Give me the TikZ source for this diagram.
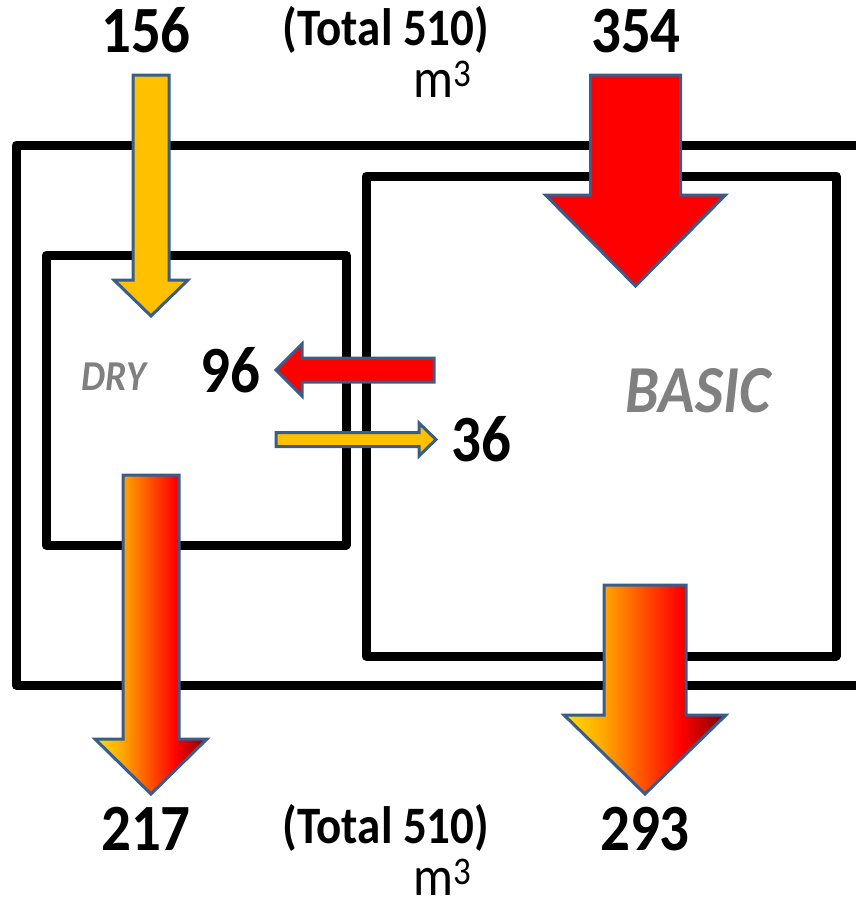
\documentclass[tikz,border=0pt]{standalone}
\usepackage{fontspec}
\setmainfont{Carlito}
\usepackage{graphicx}
\definecolor{aline}{RGB}{56,93,138}
\definecolor{ayel}{RGB}{255,192,0}
\definecolor{ared}{RGB}{255,0,0}
\definecolor{fy}{RGB}{255,224,0}
\definecolor{fo}{RGB}{255,168,0}
\definecolor{fr}{RGB}{255,0,0}
\definecolor{fdr}{RGB}{128,0,0}
\definecolor{lab}{RGB}{128,128,128}
\pgfdeclarehorizontalshading{fire}{100bp}{color(0bp)=(fy); color(25bp)=(fy); color(37bp)=(fo); color(61bp)=(fr); color(75bp)=(fdr); color(100bp)=(fdr)}
\newcommand\vs[1]{\scalebox{1}[1.12]{#1}}
\newcommand\dnarrow[7]{\path[#1] (#2-#3,#4) -- (#2+#3,#4) -- (#2+#3,#5) -- (#2+#6,#5) -- (#2,#7) -- (#2-#6,#5) -- (#2-#3,#5) -- cycle;}
\tikzset{
  box/.style={draw=black, line width=9pt, line join=round},
  blk/.style={draw=aline, line width=3pt, line join=miter},
  num/.style={font=\bfseries\fontsize{59}{60}\selectfont, anchor=base, inner sep=0pt},
  tot/.style={font=\bfseries\fontsize{47}{48}\selectfont, anchor=base, inner sep=0pt},
  unit/.style={font=\fontsize{50}{50}\selectfont, anchor=base, inner sep=0pt},
  lbl/.style={font=\bfseries\itshape, text=lab, anchor=base, inner sep=0pt}
}
\begin{document}
\begin{tikzpicture}[x=1pt,y=-1pt]
\useasboundingbox (0,0) rectangle (856,902);
\clip (0,0) rectangle (856,902);
% boxes
\draw[box] (16,145) rectangle (890,685);
\draw[box] (366,176) rectangle (836,656);
\draw[box] (46,255) rectangle (346,545);
% down arrows
\dnarrow{blk,fill=ayel}{151}{18}{75}{280}{37}{316}
\dnarrow{blk,fill=ared}{635.5}{45}{75}{195}{90}{286}
\dnarrow{blk,shading=fire}{151}{28}{475}{739}{56}{794}
\dnarrow{blk,shading=fire}{645}{41}{585}{715}{81}{794}
% horizontal arrows
\path[blk,fill=ared] (434,358) -- (434,382) -- (302,382) -- (302,396) -- (276,370) -- (302,344) -- (302,358) -- cycle;
\path[blk,fill=ayel] (276,432.5) -- (419,432.5) -- (419,423) -- (436,439.5) -- (419,456) -- (419,446.5) -- (276,446.5) -- cycle;
% texts
\node[num] (n156) at (146,52) {\vs{156}};
\node[tot] (t1) at (386,45) {\vs{(Total 510)}};
\node[unit] (u1) at (443,97) {\vs{m\textsuperscript{3}}};
\node[num] (n354) at (636,52) {\vs{354}};
\node[num] (n96) at (230,392) {\vs{96}};
\node[num] (n36) at (481,461) {\vs{36}};
\node[num] (n217) at (146,850) {\vs{217}};
\node[tot] (t2) at (386,843) {\vs{(Total 510)}};
\node[unit] (u2) at (443,895) {\vs{m\textsuperscript{3}}};
\node[num] (n293) at (645,850) {\vs{293}};
\node[lbl, font=\bfseries\itshape\fontsize{38}{38}\selectfont] (dry) at (114,390) {\vs{DRY}};
\node[lbl, font=\bfseries\itshape\fontsize{60}{60}\selectfont] (basic) at (698,412) {\vs{BASIC}};
\end{tikzpicture}
\end{document}
